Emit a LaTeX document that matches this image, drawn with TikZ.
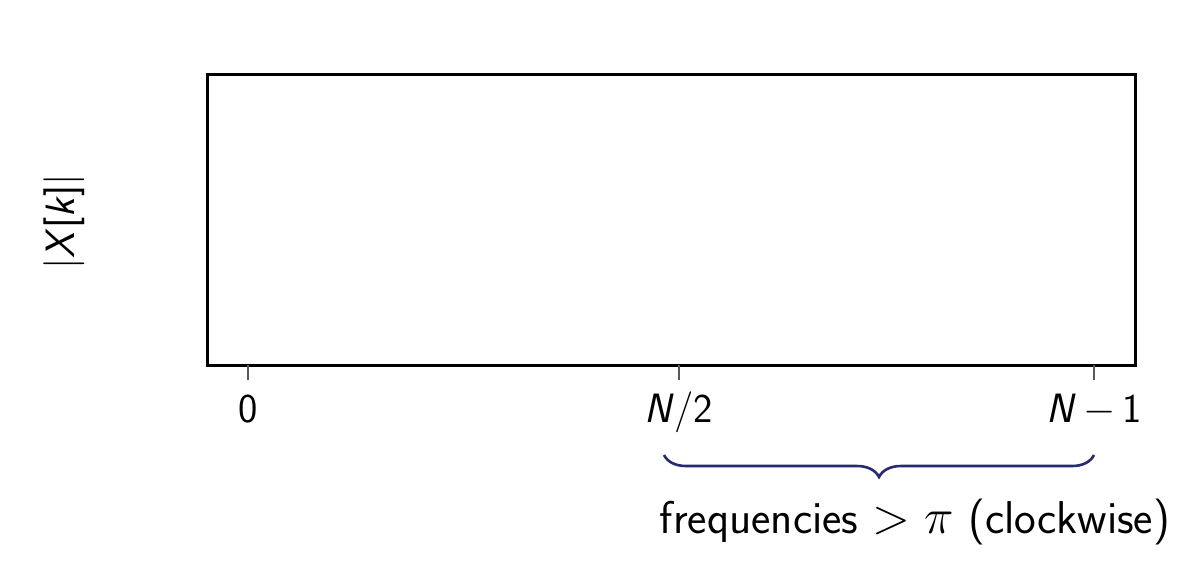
\documentclass[tikz,border=0pt]{standalone}
\usepackage{amsmath}
\usepackage{tikz}
\usetikzlibrary{decorations.pathreplacing}
\usetikzlibrary{calc}
\definecolor{bracecol}{RGB}{40,42,110}

\begin{document}
\begin{tikzpicture}[x=0.5pt,y=-0.5pt,font=\sffamily\fontsize{20.5}{24}\selectfont]
\useasboundingbox (0,0) rectangle (1198,586);
% Draw the frame and the axis label
\draw[line width=1.5pt] (207,74) rectangle (1135,365);
\node[rotate=90](ylab) at (64,222){|\textit{X}[\textit{k}]|};

% Draw the ticks and their labels
\coordinate(t0) at (248,365);
\coordinate(th) at (679,365);
\coordinate(tn) at (1094,365);
\draw[gray!70!black,line width=0.8pt] (t0) -- ++(0,15);
\draw[gray!70!black,line width=0.8pt] (th) -- ++(0,15);
\draw[gray!70!black,line width=0.8pt] (tn) -- ++(0,15);
\node[anchor=base](l0) at (248,422){0};
\node[anchor=base](lh) at (679,422){\textit{N}/2};
\node[anchor=base](ln) at (1094,422){\textit{N}\,$-$\,1};

% Draw the brace and its text
\coordinate(ba) at (664,455);
\coordinate(bb) at (1094,455);
\draw[bracecol,line width=1.3pt,decorate,decoration={brace,mirror,amplitude=11pt}] (ba) -- (bb);
\node[anchor=base,font=\sffamily\fontsize{23}{27}\selectfont](freq) at (915,533){frequencies $>\pi$ (clockwise)};
\end{tikzpicture}
\end{document}
